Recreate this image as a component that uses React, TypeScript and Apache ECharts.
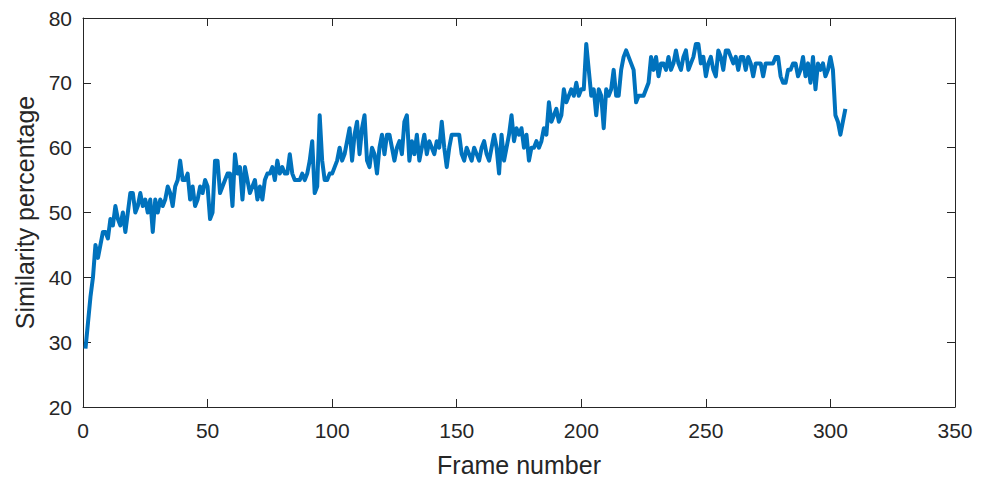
import React, { useEffect, useRef } from "react";
import * as echarts from "echarts";

const similarity: number[] = [
  29, 33, 37, 40, 45, 43, 45, 47, 47, 46,
  49, 48, 51, 49, 48, 50, 47, 50, 53, 53,
  50, 51, 53, 51, 52, 50, 52, 47, 52, 50,
  52, 51, 52, 54, 53, 51, 54, 55, 58, 55,
  55, 56, 52, 54, 51, 52, 54, 53, 55, 54,
  49, 50, 58, 58, 53, 54, 55, 56, 56, 51,
  59, 56, 57, 52, 57, 55, 53, 54, 55, 52,
  54, 52, 55, 56, 56, 57, 55, 58, 56, 57,
  56, 56, 59, 56, 55, 55, 55, 56, 55, 56,
  58, 61, 53, 54, 65, 58, 55, 55, 56, 56,
  57, 58, 60, 58, 59, 61, 63, 58, 62, 64,
  59, 63, 65, 58, 57, 60, 59, 56, 60, 62,
  59, 62, 62, 60, 58, 60, 61, 59, 64, 65,
  58, 61, 59, 62, 58, 60, 62, 59, 61, 60,
  59, 61, 60, 64, 60, 57, 60, 62, 62, 62,
  62, 59, 58, 60, 59, 58, 60, 59, 58, 60,
  61, 59, 58, 60, 62, 60, 56, 62, 58, 60,
  62, 65, 61, 63, 62, 63, 60, 62, 58, 60,
  60, 61, 60, 61, 63, 62, 67, 64, 65, 66,
  64, 65, 69, 67, 68, 69, 68, 70, 68, 69,
  69, 76, 72, 68, 69, 65, 69, 68, 63, 69,
  68, 69, 72, 68, 68, 72, 74, 75, 74, 73,
  72, 67, 68, 68, 68, 69, 70, 74, 72, 74,
  71, 73, 73, 72, 74, 72, 73, 75, 73, 72,
  74, 75, 72, 73, 74, 76, 76, 73, 74, 71,
  73, 74, 72, 71, 75, 74, 72, 75, 75, 74,
  73, 74, 72, 74, 74, 72, 74, 73, 71, 73,
  73, 73, 71, 73, 73, 73, 73, 74, 74, 71,
  70, 70, 72, 72, 73, 73, 71, 72, 74, 71,
  73, 70, 74, 69, 73, 72, 73, 71, 72, 74,
  72, 65, 64, 62, 64, 66,
];

const frames: number[] = similarity.map((_, i) => i + 1);

const X_MIN = 0;
const X_MAX = 350;
const X_STEP = 50;
const Y_MIN = 20;
const Y_MAX = 80;
const Y_STEP = 10;

const AXIS_COLOR = "#262626";
const LINE_COLOR = "#0072BD";
const FONT = "'Liberation Sans', Arial, Helvetica, sans-serif";

export default function App() {
  const ref = useRef<HTMLDivElement>(null);

  useEffect(() => {
    if (!ref.current) return;
    const chart = echarts.init(ref.current, undefined, { renderer: "svg" });

    const lineStyle = { color: AXIS_COLOR, width: 1 };
    const baseX = {
      type: "value" as const,
      min: X_MIN,
      max: X_MAX,
      interval: X_STEP,
      splitLine: { show: false },
      axisLine: { show: true, onZero: false, lineStyle },
      axisTick: { show: true, inside: true, length: 8, lineStyle },
    };
    const baseY = {
      type: "value" as const,
      min: Y_MIN,
      max: Y_MAX,
      interval: Y_STEP,
      splitLine: { show: false },
      axisLine: { show: true, onZero: false, lineStyle },
      axisTick: { show: true, inside: true, length: 8, lineStyle },
    };

    chart.setOption({
      animation: false,
      backgroundColor: "#ffffff",
      grid: {
        left: 83,
        right: 28,
        top: 18,
        bottom: 72,
        containLabel: false,
        outerBoundsMode: "none",
      },
      xAxis: [
        {
          ...baseX,
          position: "bottom",
          name: "Frame number",
          nameLocation: "middle",
          nameGap: 45,
          nameTextStyle: { color: AXIS_COLOR, fontSize: 25, fontFamily: FONT },
          axisLabel: { color: AXIS_COLOR, fontSize: 21, fontFamily: FONT, margin: 13 },
        },
        {
          ...baseX,
          position: "top",
          axisLabel: { show: false },
        },
      ],
      yAxis: [
        {
          ...baseY,
          position: "left",
          name: "Similarity percentage",
          nameLocation: "middle",
          nameGap: 46,
          nameTextStyle: { color: AXIS_COLOR, fontSize: 25, fontFamily: FONT },
          axisLabel: { color: AXIS_COLOR, fontSize: 21, fontFamily: FONT, margin: 11 },
        },
        {
          ...baseY,
          position: "right",
          axisLabel: { show: false },
        },
      ],
      series: [
        {
          type: "line",
          data: frames.map((f, i) => [f, similarity[i]]),
          showSymbol: false,
          lineStyle: { color: LINE_COLOR, width: 4, join: "round" },
          itemStyle: { color: LINE_COLOR },
        },
      ],
    });

    return () => chart.dispose();
  }, []);

  return (
    <div
      ref={ref}
      style={{ position: "absolute", left: 0, top: 0, width: 983, height: 479 }}
    />
  );
}
